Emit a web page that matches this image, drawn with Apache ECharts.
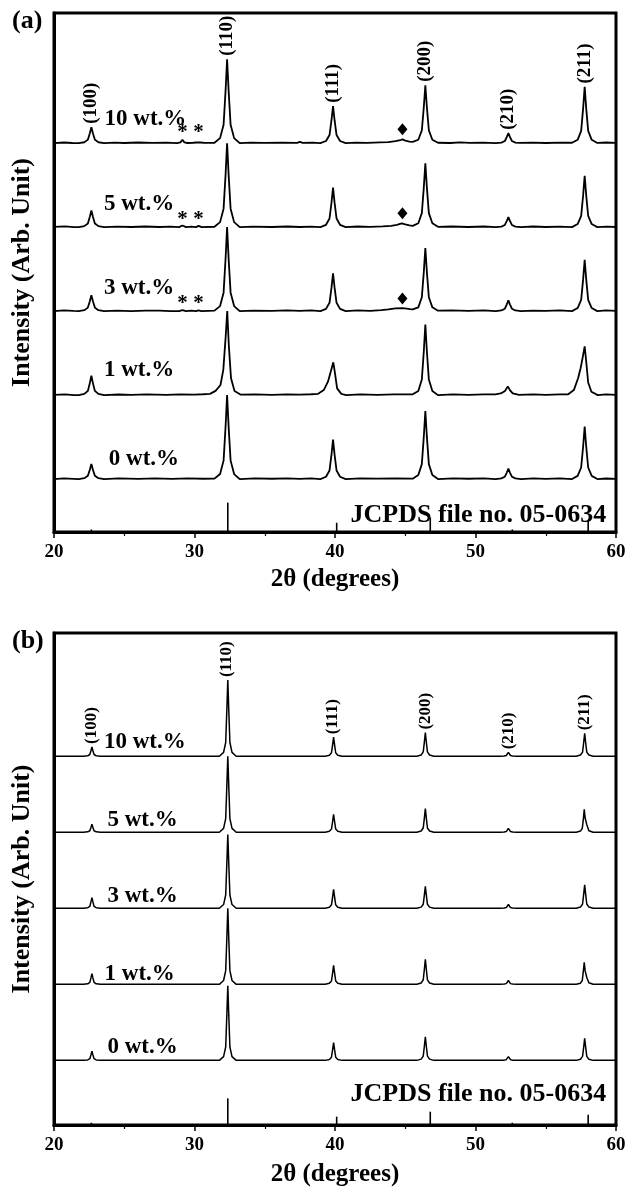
<!DOCTYPE html>
<html><head><meta charset="utf-8">
<script src="https://cdn.jsdelivr.net/npm/echarts@6/dist/echarts.min.js"></script>
<style>html,body{margin:0;padding:0;background:#fff}#c{width:630px;height:1188px}</style>
</head><body><div id="c"></div>
<script>
// ---------- data ----------
const patternNames = ['0 wt.%', '1 wt.%', '3 wt.%', '5 wt.%', '10 wt.%'];
const xTicks = [20, 30, 40, 50, 60];
const hklNames = ['(100)', '(110)', '(111)', '(200)', '(210)', '(211)'];
const hklPos = [22.66, 32.32, 39.86, 46.43, 52.34, 57.77];
const jcpdsLines = [[22.66, 3], [32.37, 35], [40.12, 11], [46.78, 17.5], [52.62, 3], [58.02, 13.5]];
const jcpdsText = 'JCPDS file no. 05-0634';

// panel (a): [2theta, normalized intensity]
const a10 = [[20,0],[20.7,0.8],[21.3,0.2],[21.76,0],[22.16,1.1],[22.41,4.2],[22.55,11.8],[22.66,19],[22.77,11.8],[22.91,4.2],[23.16,1.1],[23.56,0],[24.3,0.7],[25,0.2],[26,0.8],[27,0.3],[28,0.7],
 [28.75,0],[29.0,1],[29.14,4],[29.28,1],[29.5,0.2],[29.9,0.5],[30.15,0.8],[30.29,3],[30.43,0.8],[30.7,0.3],
 [31.42,0.5],[31.82,6],[32.07,22],[32.21,62],[32.32,100],[32.43,62],[32.57,22],[32.82,6],[33.22,0],[34,0.7],[35,0.3],[36.2,0.7],[37.3,0.3],[37.5,1.5],[37.7,0.3],[38.4,0.6],
 [38.96,0],[39.36,2.6],[39.61,9.7],[39.75,27.3],[39.86,44],[39.97,27.3],[40.11,9.7],[40.36,2.6],[40.76,0],[41.5,0.7],[42.3,0.3],[43.2,0.9],
 [43.8,1.2],[44.3,2.5],[44.65,3.5],[44.8,4.5],[45.0,3],[45.3,1.8],
 [45.53,1.5],[45.93,4.1],[46.18,15.2],[46.32,42.8],[46.43,69],[46.54,42.8],[46.68,15.2],[46.93,4.1],[47.33,0.5],[48.2,0.2],[48.9,1],[49.6,0.3],[50.5,0.7],
 [51.44,0],[51.84,0.7],[52.09,2.6],[52.23,7.4],[52.34,12],[52.45,7.4],[52.59,2.6],[52.84,0.7],[52.95,2],[53.1,0.3],[54,0.7],[55,0.2],[56,0.7],
 [56.87,0.5],[57.27,4],[57.52,14.7],[57.66,41.5],[57.77,67],[57.88,41.5],[58.02,14.7],[58.27,4],[58.67,0.3],[59.3,0.8],[60,0.3]];
const a5 = [[20,0.3],[20.8,0.9],[21.4,0],[21.76,0],[22.16,1.2],[22.41,4.4],[22.55,12.4],[22.66,20],[22.77,12.4],[22.91,4.4],[23.16,1.2],[23.56,0],[24.5,0.7],[25.5,0.2],[26.5,0.8],[27.5,0.2],[28.3,0.7],
 [28.9,0],[29.14,2],[29.4,0],[29.8,0.6],[30.1,0],[30.29,1.5],[30.5,0],
 [31.42,0.5],[31.82,6],[32.07,22],[32.21,62],[32.32,100],[32.43,62],[32.57,22],[32.82,6],[33.22,0],[34.2,0.7],[35.5,0.2],[36.6,0.8],[37.5,0.2],[38.3,0.7],
 [38.96,0],[39.36,2.8],[39.61,10.3],[39.75,29.1],[39.86,47],[39.97,29.1],[40.11,10.3],[40.36,2.8],[40.76,0],[41.6,0.8],[42.5,0.3],[43.4,1],
 [44.0,1.6],[44.4,2.6],[44.75,4.5],[45.0,3.2],[45.3,2],
 [45.53,1.6],[45.93,4.6],[46.18,16.7],[46.32,47.1],[46.43,76],[46.54,47.1],[46.68,16.7],[46.93,4.6],[47.33,0.4],[48.3,0.8],[49.5,0.2],[50.6,0.8],
 [51.44,0],[51.84,0.7],[52.09,2.6],[52.23,7.4],[52.34,12],[52.45,7.4],[52.59,2.6],[52.84,0.7],[53.24,0],[54.1,0.8],[55,0.2],[56,0.7],
 [56.87,0],[57.27,3.7],[57.52,13.4],[57.66,37.8],[57.77,61],[57.88,37.8],[58.02,13.4],[58.27,3.7],[58.67,0],[59.3,0.7],[60,0.2]];
const a3 = [[20,0],[20.7,0.8],[21.4,0.2],[21.76,0],[22.16,1.1],[22.41,4.2],[22.55,11.8],[22.66,19],[22.77,11.8],[22.91,4.2],[23.16,1.1],[23.56,0],[24.5,0.6],[25.5,0.1],[26.5,0.7],[27.5,0.5],[28.3,0.1],
 [28.9,0],[29.14,1.2],[29.4,0],[29.8,0.5],[30.1,0],[30.29,1],[30.5,0],
 [31.42,0.6],[31.82,6],[32.07,22],[32.21,62],[32.32,100],[32.43,62],[32.57,22],[32.82,6],[33.22,0],[34.2,0.7],[35.5,0.3],[36.6,0.8],[37.5,0.4],[38.3,0.9],
 [38.96,0],[39.36,2.7],[39.61,9.9],[39.75,27.9],[39.86,45],[39.97,27.9],[40.11,9.9],[40.36,2.7],[40.76,0],[41.6,0.8],[42.5,0.4],[43.3,1.2],
 [43.8,2],[44.3,3.2],[44.8,3.6],[45.1,3],[45.35,2.4],
 [45.53,2],[45.93,4.5],[46.18,16.5],[46.32,46.5],[46.43,75],[46.54,46.5],[46.68,16.5],[46.93,4.5],[47.33,0.5],[48.3,0.8],[49.5,0.3],[50.6,0.8],
 [51.44,0],[51.84,0.8],[52.09,2.9],[52.23,8.1],[52.34,13],[52.45,8.1],[52.59,2.9],[52.84,0.8],[53.24,0],[54.1,0.7],[55,0.4],[56,0.8],
 [56.87,0],[57.27,3.7],[57.52,13.4],[57.66,37.8],[57.77,61],[57.88,37.8],[58.02,13.4],[58.27,3.7],[58.67,0],[59.3,0.8],[60,0.3]];
const a1 = [[20,0.3],[20.8,0.9],[21.4,0],[21.76,0],[22.16,1.4],[22.41,5],[22.55,14.3],[22.66,23],[22.77,14.3],[22.91,5],[23.16,1.4],[23.56,0],[24.6,0.7],[25.5,0.4],[26.6,0.8],[28,0.3],[29,0.8],[30,0.6],[30.6,1],
 [31.1,1.5],[31.5,5],[31.85,12],[32.05,30],[32.22,70],[32.33,100],[32.44,60],[32.6,20],[32.85,5],[33.3,0.5],[34.3,0.8],[35.5,0.3],[36.6,0.8],[37.5,0.5],[38.3,1],
 [38.8,1.5],[39.2,6],[39.5,16],[39.7,28],[39.88,39],[40.0,26],[40.15,8],[40.45,1.5],[40.8,0],[41.8,0.8],[43,0.4],[44.2,0.9],
 [45.53,1],[45.93,5],[46.18,18.5],[46.32,52],[46.43,84],[46.54,52],[46.68,18.5],[46.93,5],[47.33,0],[48.4,0.8],[49.5,0.4],[50.6,0.8],
 [51.4,0.8],[51.8,2],[52.1,5],[52.3,10.4],[52.45,6],[52.65,2],[53.1,0.3],[54.1,0.8],[55,0.4],[56,0.8],
 [56.6,1],[57.0,6],[57.3,20],[57.48,32],[57.63,45],[57.77,58],[57.88,40],[58.02,15],[58.25,4],[58.7,0],[59.3,0.8],[60,0.3]];
const a0 = [[20,0],[20.7,0.8],[21.4,0.3],[21.76,0],[22.16,1.1],[22.41,4],[22.55,11.2],[22.66,18],[22.77,11.2],[22.91,4],[23.16,1.1],[23.56,0],[24.6,0.8],[26,0.3],[27.2,0.8],[28.4,0.2],[29.5,0.8],[30.6,0.4],
 [31.42,0.5],[31.82,6],[32.07,22],[32.21,62],[32.32,100],[32.43,62],[32.57,22],[32.82,6],[33.22,0],[34.3,0.8],[35.5,0.4],[36.6,0.9],[37.5,0.3],[38.3,0.8],
 [38.96,0],[39.36,2.8],[39.61,10.3],[39.75,29.1],[39.86,47],[39.97,29.1],[40.11,10.3],[40.36,2.8],[40.76,0],[41.8,0.8],[43,0.5],[44.3,0.9],
 [45.53,0.5],[45.93,4.9],[46.18,17.8],[46.32,50.2],[46.43,81],[46.54,50.2],[46.68,17.8],[46.93,4.9],[47.33,0],[48.4,0.8],[49.5,0.4],[50.6,0.8],
 [51.44,0],[51.84,0.8],[52.09,2.8],[52.23,7.8],[52.34,12.5],[52.45,7.8],[52.59,2.8],[52.84,0.8],[53.24,0],[54.1,0.8],[55,0.3],[56,0.8],
 [56.87,0],[57.27,3.8],[57.52,13.8],[57.66,38.8],[57.77,62.5],[57.88,38.8],[58.02,13.8],[58.27,3.8],[58.67,0],[59.3,0.7],[60,0.2]];

// panel (b)
const b10 = [[20,0],[22.1,0],[22.4,0.6],[22.55,2.2],[22.63,7.2],[22.7,12],[22.77,7.2],[22.85,2.2],[23.0,0.6],[23.3,0],
 [31.77,0],[32.07,5],[32.22,18],[32.3,60],[32.37,100],[32.44,60],[32.52,18],[32.67,5],[32.97,0],
 [39.3,0],[39.6,1.3],[39.75,4.5],[39.83,15],[39.9,25],[39.97,15],[40.05,4.5],[40.2,1.3],[40.5,0],
 [45.83,0],[46.13,1.6],[46.28,5.6],[46.36,18.6],[46.43,31],[46.5,18.6],[46.58,5.6],[46.73,1.6],[47.03,0],
 [51.74,0],[52.04,0.3],[52.19,0.9],[52.27,3],[52.34,5],[52.41,3],[52.49,0.9],[52.64,0.3],[52.94,0],
 [57.17,0],[57.47,1.5],[57.62,5.4],[57.7,18],[57.77,30],[57.84,18],[57.92,5.4],[58.07,1.5],[58.37,0],[60,0]];
const b5 = [[20,0],[22.1,0],[22.4,0.5],[22.55,1.9],[22.63,6.3],[22.7,10.5],[22.77,6.3],[22.85,1.9],[23.0,0.5],[23.3,0],
 [31.77,0],[32.07,5],[32.22,18],[32.3,60],[32.37,100],[32.44,60],[32.52,18],[32.67,5],[32.97,0],
 [39.3,0],[39.6,1.2],[39.75,4.2],[39.83,14.1],[39.9,23.5],[39.97,14.1],[40.05,4.2],[40.2,1.2],[40.5,0],
 [45.83,0],[46.13,1.6],[46.28,5.6],[46.36,18.6],[46.43,31],[46.5,18.6],[46.58,5.6],[46.73,1.6],[47.03,0],
 [51.74,0],[52.04,0.3],[52.19,0.9],[52.27,3],[52.34,5],[52.41,3],[52.49,0.9],[52.64,0.3],[52.94,0],
 [57.17,0],[57.47,1.5],[57.6,5],[57.68,18],[57.74,30],[57.8,19],[57.85,21],[57.92,10],[58.07,2],[58.37,0],[60,0]];
const b3 = [[20,0],[22.1,0],[22.4,0.7],[22.55,2.5],[22.63,8.4],[22.7,14],[22.77,8.4],[22.85,2.5],[23.0,0.7],[23.3,0],
 [31.77,0],[32.07,4.9],[32.22,17.5],[32.3,58.2],[32.37,97],[32.44,58.2],[32.52,17.5],[32.67,4.9],[32.97,0],
 [39.3,0],[39.6,1.3],[39.75,4.5],[39.83,15],[39.9,25],[39.97,15],[40.05,4.5],[40.2,1.3],[40.5,0],
 [45.83,0],[46.13,1.5],[46.28,5.2],[46.36,17.4],[46.43,29],[46.5,17.4],[46.58,5.2],[46.73,1.5],[47.03,0],
 [51.74,0],[52.04,0.3],[52.19,0.9],[52.27,3],[52.34,5],[52.41,3],[52.49,0.9],[52.64,0.3],[52.94,0],
 [57.17,0],[57.47,1.6],[57.62,5.6],[57.7,18.6],[57.77,31],[57.84,18.6],[57.92,5.6],[58.07,1.6],[58.37,0],[60,0]];
const b1 = [[20,0],[22.1,0],[22.4,0.7],[22.55,2.5],[22.63,8.4],[22.7,14],[22.77,8.4],[22.85,2.5],[23.0,0.7],[23.3,0],
 [31.77,0],[32.07,5],[32.22,18],[32.3,60],[32.37,100],[32.44,60],[32.52,18],[32.67,5],[32.97,0],
 [39.3,0],[39.6,1.3],[39.75,4.5],[39.83,15],[39.9,25],[39.97,15],[40.05,4.5],[40.2,1.3],[40.5,0],
 [45.83,0],[46.13,1.7],[46.28,5.9],[46.36,19.8],[46.43,33],[46.5,19.8],[46.58,5.9],[46.73,1.7],[47.03,0],
 [51.74,0],[52.04,0.3],[52.19,0.9],[52.27,3],[52.34,5],[52.41,3],[52.49,0.9],[52.64,0.3],[52.94,0],
 [57.17,0],[57.47,1.5],[57.6,5],[57.68,18],[57.74,29],[57.8,18],[57.85,20],[57.92,9],[58.07,2],[58.37,0],[60,0]];
const b0 = [[20,0],[22.1,0],[22.4,0.6],[22.55,2.2],[22.63,7.2],[22.7,12],[22.77,7.2],[22.85,2.2],[23.0,0.6],[23.3,0],
 [31.77,0],[32.07,4.9],[32.22,17.6],[32.3,58.8],[32.37,98],[32.44,58.8],[32.52,17.6],[32.67,4.9],[32.97,0],
 [39.3,0],[39.6,1.2],[39.75,4.2],[39.83,14.1],[39.9,23.5],[39.97,14.1],[40.05,4.2],[40.2,1.2],[40.5,0],
 [45.83,0],[46.13,1.6],[46.28,5.6],[46.36,18.6],[46.43,31],[46.5,18.6],[46.58,5.6],[46.73,1.6],[47.03,0],
 [51.74,0],[52.04,0.3],[52.19,0.9],[52.27,3],[52.34,5],[52.41,3],[52.49,0.9],[52.64,0.3],[52.94,0],
 [57.17,0],[57.47,1.5],[57.62,5.2],[57.7,17.4],[57.77,29],[57.84,17.4],[57.92,5.2],[58.07,1.5],[58.37,0],[60,0]];

// secondary-phase markers (panel a): height above baseline, per pattern index
const starPos = [29.14, 30.29];
const starHeight = {2: 9, 3: 9, 4: 13};
const diamondPos = 44.8;
const diamondHeight = {2: 15, 3: 16.5, 4: 16.5};

const panels = [
  {data: [a0, a1, a3, a5, a10], offsets: [63, 163, 263, 363, 463], ymax: 618, top: 13, height: 519,
   labelX: [23.9, 23.55, 23.55, 23.55, 23.6], labelDy: [24, 30, 27, 27, 29], jcpdsTextY: 20,
   title: '(a)', titleTop: 3, lw: 1.8, hklFont: 19},
  {data: [b0, b1, b3, b5, b10], offsets: [85, 185, 285, 385, 485], ymax: 647, top: 633, height: 495,
   labelX: [23.8, 23.6, 23.8, 23.8, 23.55], labelDy: [17, 14, 16, 16, 18], jcpdsTextY: 41,
   title: '(b)', titleTop: 623, lw: 1.5, hklFont: 17}
];

// ---------- chart ----------
const FONT = "'Liberation Serif', 'Times New Roman', serif";
const chart = echarts.init(document.getElementById('c'), null, {renderer: 'canvas'});
const grid = [], xAxis = [], yAxis = [], series = [], title = [];
const txt = (size, extra) => Object.assign({color: '#000', fontFamily: FONT, fontWeight: 'bold', fontSize: size}, extra || {});

panels.forEach((p, k) => {
  grid.push({left: 54, width: 562, top: p.top, height: p.height, show: true, borderColor: '#000', borderWidth: 3});
  xAxis.push({type: 'value', gridIndex: k, min: 20, max: 60, interval: 10,
    axisLine: {show: true, lineStyle: {color: '#000', width: 3}},
    axisTick: {show: true, inside: false, length: 6, lineStyle: {color: '#000', width: 1.5}},
    minorTick: {show: true, splitNumber: 2, length: 4, lineStyle: {color: '#000', width: 1.2}},
    splitLine: {show: false},
    axisLabel: txt(19, {margin: 11, formatter: v => xTicks.includes(v) ? String(v) : ''}),
    name: '2θ (degrees)', nameLocation: 'middle', nameGap: k === 0 ? 35 : 37,
    nameTextStyle: txt(25)
  });
  yAxis.push({type: 'value', gridIndex: k, min: 0, max: p.ymax,
    axisLine: {show: true, lineStyle: {color: '#000', width: 3}},
    axisTick: {show: false}, axisLabel: {show: false}, splitLine: {show: false},
    name: 'Intensity (Arb. Unit)', nameLocation: 'middle', nameGap: 19,
    nameTextStyle: txt(26)
  });
  title.push({text: p.title, left: 7, top: p.titleTop, textStyle: txt(26)});

  p.data.forEach((d, i) => {
    series.push({type: 'line', xAxisIndex: k, yAxisIndex: k, name: patternNames[i],
      data: d.map(pt => [pt[0], pt[1] + p.offsets[i]]), showSymbol: false, symbol: 'none',
      lineStyle: {color: '#000', width: p.lw}, silent: true, animation: false, z: 3});
  });

  series.push({type: 'bar', xAxisIndex: k, yAxisIndex: k, data: jcpdsLines, barWidth: 1.6,
    itemStyle: {color: '#000'}, animation: false, silent: true});

  const labelSeries = (data, label) => ({type: 'scatter', xAxisIndex: k, yAxisIndex: k, symbolSize: 0,
    itemStyle: {opacity: 1, color: '#000'}, animation: false, silent: true, z: 5, data,
    label: Object.assign({show: true, position: 'inside', formatter: '{b}'}, label)});

  series.push(labelSeries(patternNames.map((n, i) => ({value: [p.labelX[i], p.offsets[i] + p.labelDy[i]], name: n})),
    txt(23, {align: 'left', verticalAlign: 'middle'})));

  series.push(labelSeries([{value: [59.3, p.jcpdsTextY], name: jcpdsText}],
    txt(26, {align: 'right', verticalAlign: 'middle'})));

  const topD = p.data[4], off = p.offsets[4];
  series.push(labelSeries(hklPos.map((x, j) => {
      const m = Math.max(...topD.filter(pt => Math.abs(pt[0] - x) < 0.3).map(pt => pt[1]));
      return {value: [x, off + m + 4], name: hklNames[j]};
    }), txt(p.hklFont, {align: 'left', verticalAlign: 'middle', rotate: 90})));

  if (k === 0) {
    const stars = [], diamonds = [];
    Object.keys(starHeight).forEach(i => starPos.forEach(x => stars.push({value: [x, p.offsets[i] + starHeight[i]], name: '*'})));
    Object.keys(diamondHeight).forEach(i => diamonds.push([diamondPos, p.offsets[i] + diamondHeight[i]]));
    series.push(labelSeries(stars, txt(21, {align: 'center', verticalAlign: 'middle'})));
    series.push({type: 'scatter', xAxisIndex: k, yAxisIndex: k, symbol: 'diamond', symbolSize: [10, 12],
      itemStyle: {color: '#000', opacity: 1}, animation: false, silent: true, data: diamonds});
  }
});

chart.setOption({backgroundColor: '#fff', animation: false, title, grid, xAxis, yAxis, series});
</script></body></html>
